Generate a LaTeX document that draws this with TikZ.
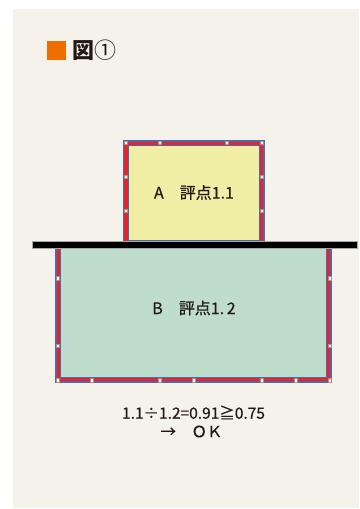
\documentclass[tikz,border=0pt]{standalone}
\usepackage{fontspec}
\newfontfamily\jp[FakeBold=0.6]{Noto Sans CJK JP}
\newfontfamily\jpt{Noto Sans CJK JP}
\definecolor{panel}{HTML}{F5F2EB}
\definecolor{boxA}{HTML}{F1EEA5}
\definecolor{boxB}{HTML}{BEDDCC}
\definecolor{frred}{HTML}{E3262B}
\definecolor{frblue}{HTML}{4A6AB0}
\definecolor{ttl}{HTML}{EE6F00}
\definecolor{ink}{HTML}{231815}
\definecolor{mk}{HTML}{B98A7A}
\tikzset{
  lbl/.style={font=\jp\fontsize{16}{18}\selectfont, text=ink, inner sep=0pt},
  calc/.style={font=\jp\fontsize{15.5}{18}\selectfont, text=ink, inner sep=0pt, align=center},
  marker/.style={fill=white, draw=mk, line width=0.6pt, minimum size=3.4pt, inner sep=0pt, rectangle},
}
\newcommand{\myframedbox}[5]{% x1 y1 x2 y2 fill
  \fill[frblue] (#1,#2) rectangle (#3,#4);
  \fill[frred] (#1+1.8,#2+1.8) rectangle (#3-1.8,#4-1.8);
  \fill[frblue] (#1+5,#2+5) rectangle (#3-5,#4-5);
  \fill[#5] (#1+6.2,#2+6.2) rectangle (#3-6.2,#4-6.2);
}
\begin{document}
\begin{tikzpicture}[x=1pt,y=-1pt]
\useasboundingbox (0,0) rectangle (359,509);
\fill[white] (0,0) rectangle (359,509);
\fill[panel] (13,9) rectangle (359,508);
% title
\fill[ttl] (47,41) rectangle (66,60);
\node[anchor=west, inner sep=0pt, text=ink, font=\jpt\fontsize{22}{24}\selectfont] (title) at (72,50.5) {\textbf{図}①};
% box B (top hidden under the bar)
\myframedbox{55}{241.5}{332}{383}{boxB}
% box A
\myframedbox{122.5}{140}{265}{246}{boxA}
% markers box A
\foreach \p in {(125.7,142.7),(160,142.7),(227,142.7),(261.7,142.7),
                (125.7,176.7),(125.7,210.7),(261.7,176.7),(261.7,210.7)}
  \node[marker] at \p {};
% markers box B
\foreach \x in {57.7,92,160,194,261.7,295.7,329.7}
  \node[marker] at (\x,380.3) {};
\foreach \y in {278.3,346}{
  \node[marker] at (57.7,\y) {};
  \node[marker] at (329.7,\y) {};
}
% ground bar
\fill[black, draw=gray!70, line width=0.5pt] (32.5,241) rectangle (357,248);
% labels
\node[lbl] (A) at (194,192.5) {A　評点1.1};
\node[lbl] (B) at (194,308) {B　評点1.\,2};
\node[calc] (c1) at (193.5,412.5) {1.1÷1.2=0.91≧0.75};
\node[calc] (c2) at (191.5,431.5) {→　ＯＫ};
\end{tikzpicture}
\end{document}
